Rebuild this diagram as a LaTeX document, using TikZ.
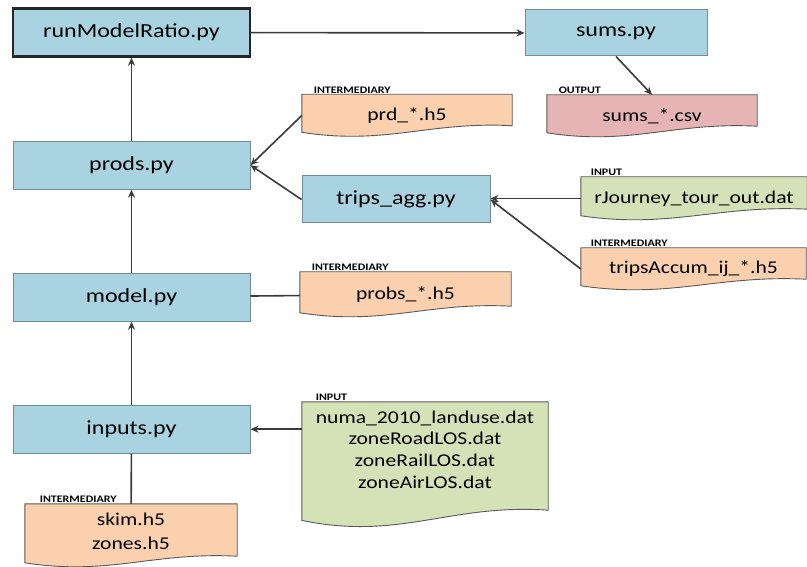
\documentclass[tikz,border=0pt]{standalone}
\usepackage{fontspec}
\setmainfont{Carlito}[FakeStretch=1.2]
\usetikzlibrary{arrows.meta,positioning,calc,backgrounds}

\definecolor{boxblue}{HTML}{A9D3E0}
\definecolor{boxedge}{HTML}{6F8E98}
\definecolor{interorange}{HTML}{FAD0AF}
\definecolor{inputgreen}{HTML}{D5E2B7}
\definecolor{outputpink}{HTML}{E6B4B4}
\definecolor{linegray}{HTML}{3A3A3A}

% data file outline: flat top, wavy bottom (name, fill, wave scale)
\newcommand{\docshape}[3]{%
  \filldraw[draw=black!65, line width=0.9pt, fill=#2]
    (#1.north west) -- (#1.north east)
    -- ([yshift=#3*10pt]#1.south east)
    .. controls ($(#1.south west)!0.6!(#1.south east)+(0,#3*14pt)$)
    and ($(#1.south west)!0.4!(#1.south east)+(0,-#3*8pt)$)
    .. ([yshift=#3*4pt]#1.south west) -- cycle;}

\begin{document}
\begin{tikzpicture}[x=1pt, y=-1pt,
  script/.style={rectangle, draw=boxedge, fill=boxblue, line width=1pt, minimum width=237pt, minimum height=48pt, font=\fontsize{20}{24}\selectfont},
  mainscript/.style={script, draw=black!85, line width=2.4pt},
  datafile/.style={rectangle, minimum width=210pt, minimum height=42pt, align=center, inner sep=2pt, font=\fontsize{18}{21.7}\selectfont},
  tag/.style={anchor=south west, xshift=11pt, inner sep=0.8pt, font=\bfseries\fontsize{10}{12}\selectfont},
  arrow/.style={-{Stealth[length=8pt,width=7pt]}, line width=1.6pt, draw=linegray},
  link/.style={line width=1.6pt, draw=linegray},
  node distance=83pt
]
\useasboundingbox (0,0) rectangle (807,567);

% python scripts
\node[mainscript] (run) at (131.5,32.5) {runModelRatio.py};
\node[script, below=of run] (prods) {prods.py};
\node[script, below=of prods] (model) {model.py};
\node[script, below=of model] (inputs) {inputs.py};
\node[script, minimum width=182pt, minimum height=46pt] (sums) at (616,33) {sums.py};
\node[script, minimum width=188pt, minimum height=47pt] (trips) at (396,199.5) {trips\_agg.py};

% data files
\node[datafile, label={[tag]north west:OUTPUT}] (csv) at (652,116) {sums\_*.csv};
\node[datafile, label={[tag]north west:INTERMEDIARY}] (prd) at (407,115.5) {prd\_*.h5};
\node[datafile, minimum width=226pt, minimum height=43pt, label={[tag, xshift=-2pt]north west:INPUT}] (rj) at (694,198.5) {rJourney\_tour\_out.dat};
\node[datafile, minimum width=225pt, label={[tag, xshift=-2pt]north west:INTERMEDIARY}] (acc) at (693.5,269) {tripsAccum\_ij\_*.h5};
\node[datafile, minimum width=211pt, minimum height=45pt, label={[tag]north west:INTERMEDIARY}] (probs) at (405.5,294.5) {probs\_*.h5};
\node[datafile, minimum width=246pt, minimum height=125pt, text depth=30pt, label={[tag, xshift=2pt]north west:INPUT}] (inp) at (425,464.5)
  {numa\_2010\_landuse.dat\\zoneRoadLOS.dat\\zoneRailLOS.dat\\zoneAirLOS.dat};
\node[datafile, minimum width=212pt, minimum height=63pt, text depth=8pt, font=\fontsize{18}{24}\selectfont, label={[tag, xshift=3pt]north west:INTERMEDIARY}] (skim) at (131,535.5)
  {skim.h5\\zones.h5};

\begin{scope}[on background layer]
\docshape{csv}{outputpink}{1.1}
\docshape{prd}{interorange}{1.1}
\docshape{rj}{inputgreen}{1.1}
\docshape{acc}{interorange}{1.1}
\docshape{probs}{interorange}{1.1}
\docshape{inp}{inputgreen}{1.7}
\docshape{skim}{interorange}{1.1}
\end{scope}

% connectors
\draw[arrow] (run) -- (sums);
\draw[arrow] (sums.south) -- (csv.north);
\draw[arrow] (prods) -- (run);
\draw[arrow] (model) -- (prods);
\draw[arrow] (inputs) -- (model);
\draw[link] (inputs) -- (skim);
\draw[arrow] (prd.west) -- (prods.east);
\draw[arrow] (trips.west) -- (prods.east);
\draw[arrow] (rj.west) -- (rj.west -| trips.east);
\draw[arrow] (acc.west) -- (trips.east);
\draw[link] (probs) -- (model);
\draw[arrow] (inp.west |- inputs) -- (inputs);
\end{tikzpicture}
\end{document}
